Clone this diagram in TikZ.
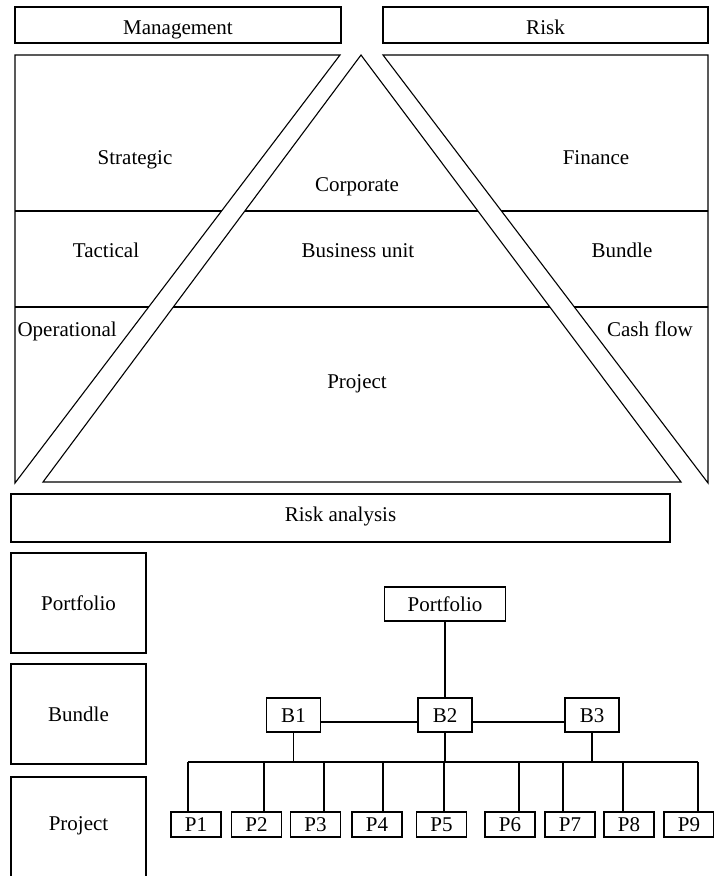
\documentclass[tikz,border=0pt]{standalone}
\usepackage{fontspec}
\setmainfont{Liberation Serif}
\begin{document}
\begin{tikzpicture}[x=1pt,y=-1pt,line width=1.1pt,line join=miter,
  every node/.style={font=\fontsize{21}{25}\selectfont,inner sep=0pt},
  % drop the baseline #1/2 below the node centre
  bl/.style={text height=#1,text depth=0pt},
  frame/.style 2 args={draw,minimum width=#1,minimum height=#2},
  pbox/.style={draw,minimum width=50pt,minimum height=25pt,bl=14pt},
  bbox/.style={draw,minimum width=54pt,minimum height=34pt,bl=14pt},
  lbl/.style={anchor=base}]
\useasboundingbox (0,0) rectangle (713,876);

% header boxes
\node[frame={326pt}{36pt},bl=18pt] (mgmt) at (178,25) {Management};
\node[frame={325pt}{36pt},bl=18pt] (risk) at (545.5,25) {Risk};

% corner points of the three wedges
\coordinate (L1) at (15,55);  \coordinate (L2) at (340,55);  \coordinate (L3) at (15,483);
\coordinate (T1) at (361,55); \coordinate (T2) at (43,482);  \coordinate (T3) at (681,482);
\coordinate (R1) at (383,55); \coordinate (R2) at (708,55);  \coordinate (R3) at (708,483);

% level dividers, kept inside each wedge
\begin{scope}
  \clip (L1) -- (L2) -- (L3) -- cycle;
  \draw (0,211) -- (713,211) (0,307) -- (713,307);
\end{scope}
\begin{scope}
  \clip (T1) -- (T2) -- (T3) -- cycle;
  \draw (0,211) -- (713,211) (0,307) -- (713,307);
\end{scope}
\begin{scope}
  \clip (R1) -- (R2) -- (R3) -- cycle;
  \draw (0,211) -- (713,211) (0,307) -- (713,307);
\end{scope}

% wedge outlines
\draw (L1) -- (L2) -- (L3) -- cycle;
\draw (T1) -- (T2) -- (T3) -- cycle;
\draw (R1) -- (R2) -- (R3) -- cycle;

% level labels
\node[lbl] (strategic) at (135,164) {Strategic};
\node[lbl] (corporate) at (357,191) {Corporate};
\node[lbl] (finance) at (596,164) {Finance};
\node[lbl] (tactical) at (106,257) {Tactical};
\node[lbl] (bunit) at (358,257) {Business unit};
\node[lbl] (bundleR) at (622,257) {Bundle};
\node[lbl,anchor=base west] (oper) at (17,336) {Operational};
\node[lbl] (cash) at (650,336) {Cash flow};
\node[lbl] (projT) at (357,388) {Project};

% risk analysis bar
\node[frame={659pt}{48pt},bl=6pt] (ra) at (340.5,518) {Risk analysis};

% level column
\node[frame={135pt}{100pt},bl=14pt] (colP) at (78.5,603) {Portfolio};
\node[frame={135pt}{100pt},bl=14pt] (colB) at (78.5,714) {Bundle};
\draw (11,880) -- (11,777) -- (146,777) -- (146,880);
\node[lbl] (colJ) at (78.5,830) {Project};

% hierarchy tree
\node[frame={121pt}{34pt},bl=15pt] (pf) at (445,604) {Portfolio};
\node[bbox] (B1) at (293.5,715) {B1};
\node[bbox] (B2) at (445,715) {B2};
\node[bbox] (B3) at (592,715) {B3};
\foreach \i/\cx in {1/196,2/256.5,3/315.5,4/377,5/441.5,6/510,7/570,8/629,9/689}
  \node[pbox] (P\i) at (\cx,824.5) {P\i};

\draw (pf.south) -- (pf.south |- B2.north);
\draw ([yshift=-7pt]B1.east) -- ([yshift=-7pt]B2.west);
\draw ([yshift=-7pt]B2.east) -- ([yshift=-7pt]B3.west);

\coordinate (busL) at (188,762);
\coordinate (busR) at (698,762);
\draw (busL) -- (busR);
\draw (B1.south) -- (B1.south |- busL);
\draw (B2.south) -- (B2.south |- busL);
\draw (B3.south) -- (B3.south |- busL);
\foreach \i/\dx in {1/188,2/264,3/324,4/383,5/444,6/519,7/563,8/623,9/698}
  \draw (\dx,762) -- (P\i.north -| \dx,762);
\end{tikzpicture}
\end{document}
